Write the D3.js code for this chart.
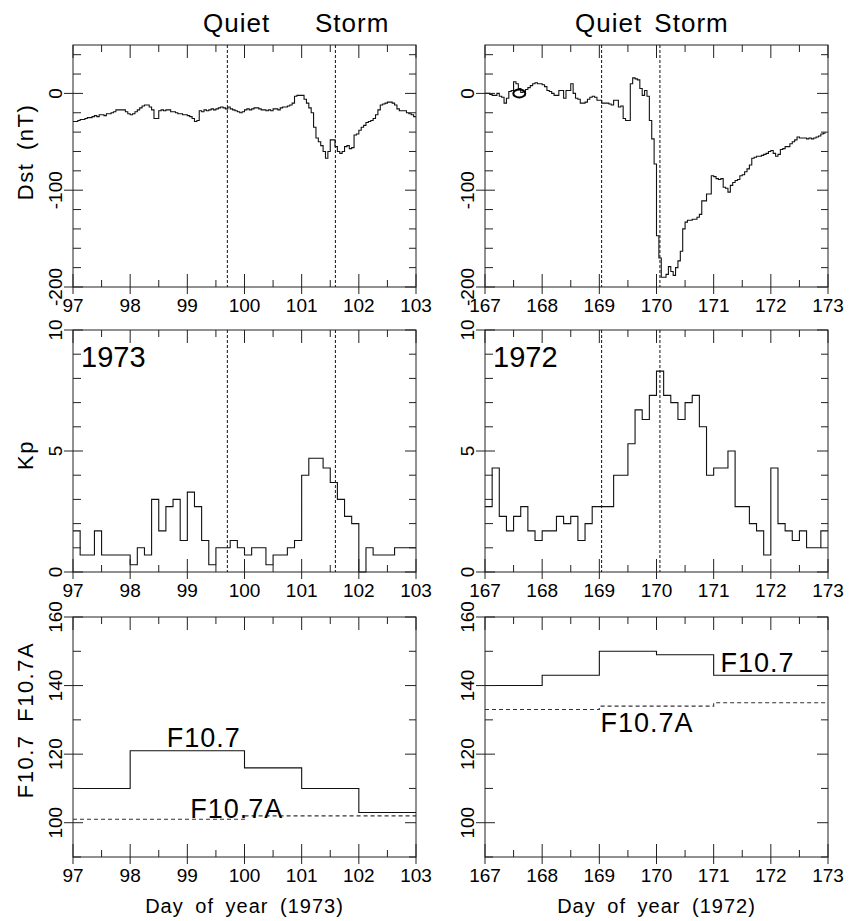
<!DOCTYPE html>
<html>
<head>
<meta charset="utf-8">
<script src="https://cdn.jsdelivr.net/npm/d3@7"></script>
<style>
  body { margin: 0; background: #fff; }
  text { font-family: "Liberation Sans", Arial, Helvetica, sans-serif; fill: #000; }
</style>
</head>
<body>
<script>
'use strict';

// ---- data ----
// hourly Dst (nT), day 97.0 .. 103.0 of 1973
const dst1973 = [
  -29,-29,-28,-27,-27,-26,-25,-25,-24,-23,
  -24,-22,-22,-23,-21,-21,-20,-19,-17,-17,
  -17,-17,-19,-21,-22,-21,-19,-17,-15,-13,
  -12,-12,-14,-17,-26,-26,-18,-17,-18,-17,
  -17,-19,-19,-20,-21,-21,-22,-22,-23,-24,
  -26,-29,-28,-18,-19,-17,-18,-17,-16,-17,
  -16,-15,-14,-15,-16,-14,
  -16,-17,-18,-19,-20,-19,-17,-16,-17,-16,
  -15,-15,-16,-17,-17,-18,-17,-18,-16,-16,
  -17,-15,-14,-14,-13,-12,-10,-3,-2,-2,
  -2,-6,-10,-15,-20,-35,-46,-50,-54,-60,
  -67,-60,-48,-48,-55,-60,-62,-60,-55,-54,
  -57,-56,-43,-42,-38,-35,-33,-30,-29,-28,
  -26,-22,-17,-12,-11,-10,-9,-9,-10,-12,
  -16,-18,-18,-18,-20,-21,-22,-24
];
// hourly Dst (nT), day 167.0 .. 173.0 of 1972
const dst1972 = [
  0,0,-1,-2,-2,0,-3,-4,-10,-5,
  2,3,12,10,5,1,2,4,6,8,
  10,11,10,10,9,7,3,2,0,-2,
  -2,3,3,-5,3,3,10,0,-5,-6,
  -10,-10,-9,-6,-4,-3,-4,-7,-7,-10,
  -10,-10,-11,-12,-7,-7,-14,-13,-26,-28,
  -28,10,16,15,14,5,-2,3,-3,-28,
  -47,-73,-147,-170,-190,-190,-187,-179,-184,-188,
  -180,-173,-163,-140,-133,-131,-131,-130,-130,-128,
  -125,-111,-111,-104,-104,-85,-86,-88,-89,-88,
  -97,-98,-102,-95,-92,-90,-89,-85,-84,-81,
  -78,-74,-67,-66,-65,-65,-64,-63,-62,-60,
  -59,-62,-65,-63,-58,-57,-55,-55,-52,-50,
  -48,-45,-46,-46,-46,-47,-46,-47,-46,-45,
  -44,-42,-41
];
// 3-hourly Kp
const kp1973 = [
  1.7,0.7,0.7,1.7,0.7,0.7,0.7,0.7,
  0.3,1.0,0.7,3.0,1.7,2.7,3.0,1.3,
  3.3,2.7,1.3,0.3,1.0,1.0,1.3,1.0,
  0.7,1.0,1.0,0.3,0.7,0.7,1.0,1.3,
  4.0,4.7,4.7,4.3,3.7,3.0,2.3,2.0,
  0,1.0,0.7,0.7,0.7,1.0,1.0,1.0
];
const kp1972 = [
  2.7,4.3,2.3,1.7,2.3,2.7,1.7,1.3,
  1.7,1.7,2.3,2.0,2.3,1.3,2.0,2.7,
  2.7,2.7,4.0,4.0,5.3,6.7,6.3,7.3,
  8.3,7.3,7.0,6.3,7.0,7.3,6.0,4.0,
  4.3,4.3,5.0,2.7,2.7,2.0,1.7,0.7,
  4.3,2.0,1.7,1.3,1.7,1.0,1.0,1.7
];
// daily F10.7 and 81-day F10.7A
const f107_1973 = [110, 121, 121, 116, 110, 103];
const f107a_1973 = [101, 101, 101, 102, 102, 102];
const f107_1972 = [140, 143, 150, 149, 143, 143];
const f107a_1972 = [133, 133, 134, 134, 135, 135];

const dayRange1973 = [97, 103];
const dayRange1972 = [167, 173];
const eventDays1973 = [99.70, 101.59];   // quiet / storm markers
const eventDays1972 = [169.04, 170.06];

const dstTicks = [-200, -100, 0];
const kpTicks = [0, 5, 10];
const f107Ticks = [100, 120, 140, 160];

// ---- layout ----
const width = 849, height = 921;
const cols = [
  { x0: 73, x1: 416, days: dayRange1973, events: eventDays1973, year: '1973',
    dst: dst1973, kp: kp1973, f: f107_1973, fa: f107a_1973 },
  { x0: 485, x1: 828, days: dayRange1972, events: eventDays1972, year: '1972',
    dst: dst1972, kp: kp1972, f: f107_1972, fa: f107a_1972 }
];
const rows = [
  { y0: 45, y1: 287, domain: [-200, 50], major: dstTicks, minorStep: 20 },
  { y0: 330, y1: 572, domain: [0, 10], major: kpTicks, minorStep: 1 },
  { y0: 617, y1: 857, domain: [90, 160], major: f107Ticks, minorStep: 10 }
];

const svg = d3.select('body').append('svg')
  .attr('width', width)
  .attr('height', height);

// turn a list of values into step points, with an end point closing the last step
function stepPoints(values, start, stepDays) {
  let pts = values.map((v, i) => [start + i * stepDays, v]);
  pts.push([start + values.length * stepDays, values[values.length - 1]]);
  return pts;
}

function range(a, b, s) {
  let out = [];
  for (let v = a; v <= b + 1e-9; v += s) out.push(+v.toFixed(6));
  return out;
}

// frame with inward ticks, majors crossing on left/bottom
function drawFrame(x, y, row, col) {
  let g = svg.append('g').attr('stroke', '#222').attr('stroke-width', 1).attr('fill', 'none');
  g.append('rect')
    .attr('x', col.x0).attr('y', row.y0)
    .attr('width', col.x1 - col.x0).attr('height', row.y1 - row.y0);

  let xMajor = range(col.days[0], col.days[1], 1);
  let xMinor = range(col.days[0] + 0.5, col.days[1], 1);
  xMajor.forEach(d => {
    g.append('line').attr('x1', x(d)).attr('x2', x(d)).attr('y1', row.y1 - 13).attr('y2', row.y1 + 7);
    g.append('line').attr('x1', x(d)).attr('x2', x(d)).attr('y1', row.y0).attr('y2', row.y0 + 13);
  });
  xMinor.forEach(d => {
    g.append('line').attr('x1', x(d)).attr('x2', x(d)).attr('y1', row.y1 - 7).attr('y2', row.y1);
    g.append('line').attr('x1', x(d)).attr('x2', x(d)).attr('y1', row.y0).attr('y2', row.y0 + 7);
  });

  let yMinor = range(row.domain[0], row.domain[1], row.minorStep)
    .filter(v => row.major.indexOf(v) < 0);
  row.major.forEach(v => {
    g.append('line').attr('y1', y(v)).attr('y2', y(v)).attr('x1', col.x0 - 9).attr('x2', col.x0 + 10);
    g.append('line').attr('y1', y(v)).attr('y2', y(v)).attr('x1', col.x1 - 11).attr('x2', col.x1);
  });
  yMinor.forEach(v => {
    g.append('line').attr('y1', y(v)).attr('y2', y(v)).attr('x1', col.x0).attr('x2', col.x0 + 8);
    g.append('line').attr('y1', y(v)).attr('y2', y(v)).attr('x1', col.x1 - 7).attr('x2', col.x1);
  });

  // tick labels
  xMajor.forEach(d => {
    svg.append('text')
      .attr('x', x(d)).attr('y', row.y1 + 25)
      .attr('text-anchor', 'middle')
      .style('font-size', '19px')
      .text(d);
  });
  row.major.forEach(v => {
    svg.append('text')
      .attr('transform', 'translate(' + (col.x0 - 11) + ',' + y(v) + ')rotate(-90)')
      .attr('text-anchor', 'middle')
      .style('font-size', '19px')
      .text(String(v));
  });
}

function drawStep(x, y, pts, dashed) {
  let line = d3.line()
    .x(d => x(d[0]))
    .y(d => y(d[1]))
    .curve(d3.curveStepAfter);
  svg.append('path')
    .datum(pts)
    .attr('fill', 'none')
    .attr('stroke', dashed ? '#333' : '#111')
    .attr('stroke-width', 1.1)
    .attr('stroke-dasharray', dashed ? '4,3' : null)
    .attr('d', line);
}

cols.forEach((col, ci) => {
  let x = d3.scaleLinear().domain(col.days).range([col.x0, col.x1]);
  let ys = rows.map(r => d3.scaleLinear().domain(r.domain).range([r.y1, r.y0]));

  // Dst
  drawStep(x, ys[0], stepPoints(col.dst, col.days[0], 1 / 24), false);
  // Kp
  drawStep(x, ys[1], stepPoints(col.kp, col.days[0], 3 / 24), false);
  // F10.7 and F10.7A
  drawStep(x, ys[2], stepPoints(col.f, col.days[0], 1), false);
  drawStep(x, ys[2], stepPoints(col.fa, col.days[0], 1), true);

  rows.forEach((r, ri) => drawFrame(x, ys[ri], r, col));

  // quiet/storm markers across top two panels
  col.events.forEach(d => {
    [0, 1].forEach(ri => {
      svg.append('line')
        .attr('x1', x(d)).attr('x2', x(d))
        .attr('y1', rows[ri].y0).attr('y2', rows[ri].y1)
        .attr('stroke', '#111')
        .attr('stroke-width', 1)
        .attr('stroke-dasharray', '3,2');
    });
  });

  // year in Kp panel
  svg.append('text')
    .attr('x', col.x0 + 8).attr('y', rows[1].y0 + 37)
    .style('font-size', '29px')
    .text(col.year);

  // x-axis title
  svg.append('text')
    .attr('x', (col.x0 + col.x1) / 2).attr('y', 913)
    .attr('text-anchor', 'middle')
    .style('font-size', '20px')
    .style('letter-spacing', '1px')
    .style('word-spacing', '5px')
    .text('Day of year (' + col.year + ')');

  // series labels in F10.7 panel
  let fy = ys[2];
  if (ci === 0) {
    svg.append('text').attr('x', x(98.64)).attr('y', fy(121) - 4)
      .style('font-size', '27px').style('letter-spacing', '1px').text('F10.7');
    svg.append('text').attr('x', x(99.05)).attr('y', fy(102) + 2)
      .style('font-size', '27px').style('letter-spacing', '1px').text('F10.7A');
  } else {
    svg.append('text').attr('x', x(171.12)).attr('y', fy(143) - 3)
      .style('font-size', '27px').style('letter-spacing', '1px').text('F10.7');
    svg.append('text').attr('x', x(169.02)).attr('y', fy(134) + 26)
      .style('font-size', '27px').style('letter-spacing', '1px').text('F10.7A');
  }
});

// small ellipse annotation on the 1972 Dst trace
{
  let x = d3.scaleLinear().domain(dayRange1972).range([cols[1].x0, cols[1].x1]);
  let y = d3.scaleLinear().domain(rows[0].domain).range([rows[0].y1, rows[0].y0]);
  svg.append('ellipse')
    .attr('cx', x(167.6)).attr('cy', y(0))
    .attr('rx', 6).attr('ry', 4)
    .attr('fill', 'none').attr('stroke', '#000').attr('stroke-width', 2);
}

// titles
svg.append('text').attr('x', 203).attr('y', 32).style('font-size', '26px').style('letter-spacing', '1px').text('Quiet');
svg.append('text').attr('x', 315).attr('y', 32).style('font-size', '26px').style('letter-spacing', '1px').text('Storm');
svg.append('text').attr('x', 575).attr('y', 32).style('font-size', '26px').style('letter-spacing', '1px').style('word-spacing', '4px').text('Quiet Storm');

// y-axis titles (left column only)
function yTitle(label, cy) {
  svg.append('text')
    .attr('transform', 'translate(33,' + cy + ')rotate(-90)')
    .attr('text-anchor', 'middle')
    .style('font-size', '22px')
    .style('letter-spacing', '1.5px')
    .style('word-spacing', '5px')
    .text(label);
}
yTitle('Dst (nT)', 152);
yTitle('Kp', 455);
yTitle('F10.7 F10.7A', 720);
</script>
</body>
</html>
